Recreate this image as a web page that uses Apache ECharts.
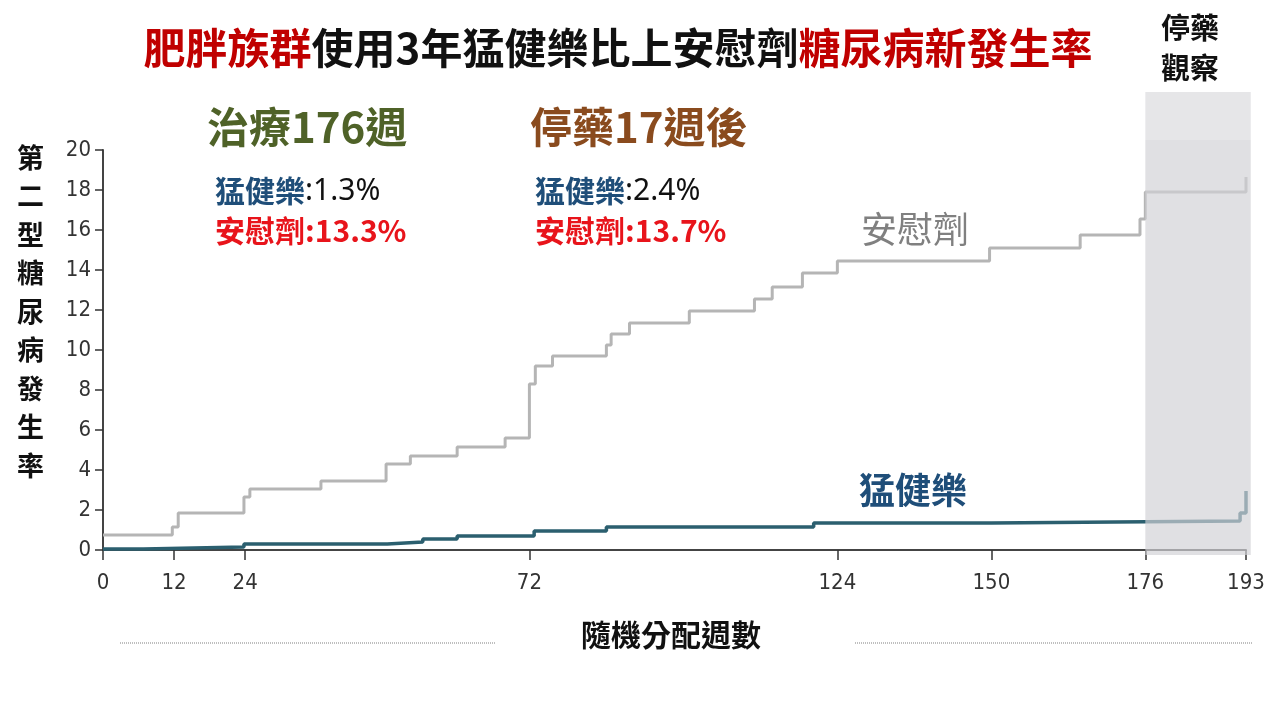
<!DOCTYPE html>
<html>
<head>
<meta charset="utf-8">
<script src="https://cdn.jsdelivr.net/npm/echarts@6/dist/echarts.min.js"></script>
<style>
html,body{margin:0;padding:0;background:#fff;}
#chart{width:1280px;height:720px;}
</style>
</head>
<body>
<div id="chart"></div>
<script>
// ---- data ----
var xTickValues = [0, 12, 24, 72, 124, 150, 176, 193];
var yTickValues = [0, 2, 4, 6, 8, 10, 12, 14, 16, 18, 20];
var placeboWeeks  = [0, 11.7, 12.7, 23.8, 24.8, 36.8, 47.8, 51.9, 59.8, 67.9, 72, 73, 75.9, 85, 85.8, 88.9, 99, 110, 113, 118.1, 124, 149.7, 165, 175.1, 176, 193];
var placeboValues = [0.75, 1.15, 1.85, 2.65, 3.05, 3.45, 4.3, 4.7, 5.15, 5.6, 8.3, 9.2, 9.7, 10.25, 10.8, 11.35, 11.95, 12.55, 13.15, 13.85, 14.45, 15.1, 15.75, 16.55, 17.9, 18.65];
var tirzWeeks  = [0, 6.8, 23.8, 48, 54, 59.8, 72.8, 85, 120, 150, 192, 193];
var tirzValues = [0.05, 0.15, 0.3, 0.4, 0.55, 0.7, 0.95, 1.15, 1.35, 1.45, 1.85, 2.95];
// off-treatment observation band (weeks) and its vertical extent (axis units)
var offTreatment = { from: 176, to: 193.8, top: 22.9, split: 20.5, bottom: -0.25 };

function pairs(xs, ys) { return xs.map(function (x, i) { return [x, ys[i]]; }); }

var chart = echarts.init(document.getElementById('chart'));
var labelFont = '"Liberation Sans Narrow", "DejaVu Sans Condensed", "Noto Sans", sans-serif';
var cjk = '"Noto Sans CJK TC", "Noto Sans CJK SC", sans-serif';

var texts = [
  { type: 'text', left: 1161, top: 8, style: { text: '停藥\n觀察', font: 'bold 29px ' + cjk, fill: '#111', lineHeight: 40 } },
  { type: 'text', left: 207, top: 106, style: { text: '治療176週', font: 'bold 42px ' + cjk, fill: '#4f6228' } },
  { type: 'text', left: 530, top: 106, style: { text: '停藥17週後', font: 'bold 42px ' + cjk, fill: '#8a4b1e' } },
  { type: 'text', left: 215, top: 176, style: { rich: {
      b: { font: 'bold 30px ' + cjk, fill: '#1f4e79' },
      n: { font: '30px "Noto Sans", sans-serif', fill: '#111' } }, text: '{b|猛健樂}{n|:1.3%}' } },
  { type: 'text', left: 215, top: 216, style: { text: '安慰劑:13.3%', font: 'bold 30px ' + cjk, fill: '#e8141b' } },
  { type: 'text', left: 535, top: 176, style: { rich: {
      b: { font: 'bold 30px ' + cjk, fill: '#1f4e79' },
      n: { font: '30px "Noto Sans", sans-serif', fill: '#111' } }, text: '{b|猛健樂}{n|:2.4%}' } },
  { type: 'text', left: 535, top: 216, style: { text: '安慰劑:13.7%', font: 'bold 30px ' + cjk, fill: '#e8141b' } },
  { type: 'text', left: 861, top: 211, style: { text: '安慰劑', font: '36px ' + cjk, fill: '#808080' } },
  { type: 'text', left: 859, top: 472, style: { text: '猛健樂', font: 'bold 36px ' + cjk, fill: '#1f4e79' } },
  { type: 'text', left: 17, top: 138, style: { text: '第\n二\n型\n糖\n尿\n病\n發\n生\n率', font: 'bold 27px ' + cjk, fill: '#111', lineHeight: 38.5 } },
  { type: 'text', left: 581, top: 620, style: { text: '隨機分配週數', font: 'bold 30px ' + cjk, fill: '#111' } },
  { type: 'line', shape: { x1: 120, y1: 643, x2: 495, y2: 643 }, style: { stroke: '#aaa', lineWidth: 1.5, lineDash: [1, 1] } },
  { type: 'line', shape: { x1: 855, y1: 643, x2: 1253, y2: 643 }, style: { stroke: '#aaa', lineWidth: 1.5, lineDash: [1, 1] } }
];

var option = {
  backgroundColor: '#fff',
  animation: false,
  title: {
    text: '{r|肥胖族群}{k|使用3年猛健樂比上安慰劑}{r|糖尿病新發生率}',
    left: 613, top: 22, textAlign: 'center',
    textStyle: {
      rich: {
        r: { color: '#c00000', fontSize: 42, fontWeight: 'bold', fontFamily: cjk },
        k: { color: '#111', fontSize: 42, fontWeight: 'bold', fontFamily: cjk }
      }
    }
  },
  grid: { left: 103, right: 34, top: 150, bottom: 170 },
  xAxis: {
    type: 'value', min: 0, max: 193,
    splitLine: { show: false },
    axisLine: { show: true, lineStyle: { color: '#444', width: 2 } },
    axisTick: { show: true, customValues: xTickValues, length: 10, lineStyle: { color: '#333', width: 1.5 } },
    axisLabel: { customValues: xTickValues, margin: 22, fontSize: 22, color: '#333', fontFamily: labelFont }
  },
  yAxis: {
    type: 'value', min: 0, max: 20, interval: 2,
    splitLine: { show: false },
    axisLine: { show: true, lineStyle: { color: '#444', width: 2 } },
    axisTick: { show: true, length: 8, lineStyle: { color: '#333', width: 1.5 } },
    axisLabel: { margin: 12, fontSize: 22, color: '#333', fontFamily: labelFont,
      formatter: function (v) { return yTickValues.indexOf(v) >= 0 ? String(v) : ''; } }
  },
  series: [
    {
      name: '安慰劑', type: 'line', step: 'end', symbol: 'none', z: 2,
      lineStyle: { color: '#b5b5b5', width: 3 },
      data: pairs(placeboWeeks, placeboValues)
    },
    {
      name: '猛健樂', type: 'line', step: 'end', symbol: 'none', z: 3,
      lineStyle: { color: '#2b5f6f', width: 3.5 },
      data: pairs(tirzWeeks, tirzValues)
    }
  ],
  graphic: texts
};
chart.setOption(option);

// shaded off-treatment band, positioned through the axes' scales
var pTop = chart.convertToPixel({ gridIndex: 0 }, [offTreatment.from, offTreatment.top]);
var pSplit = chart.convertToPixel({ gridIndex: 0 }, [offTreatment.from, offTreatment.split]);
var pBot = chart.convertToPixel({ gridIndex: 0 }, [offTreatment.to, offTreatment.bottom]);
chart.setOption({
  graphic: texts.concat([
    { type: 'rect', z: 100, silent: true,
      shape: { x: pTop[0], y: pTop[1], width: pBot[0] - pTop[0], height: pSplit[1] - pTop[1] },
      style: { fill: 'rgba(222,222,224,0.75)' } },
    { type: 'rect', z: 100, silent: true,
      shape: { x: pTop[0], y: pSplit[1], width: pBot[0] - pTop[0], height: pBot[1] - pSplit[1] },
      style: { fill: 'rgba(210,210,213,0.68)' } }
  ])
}, { replaceMerge: ['graphic'] });
</script>
</body>
</html>
